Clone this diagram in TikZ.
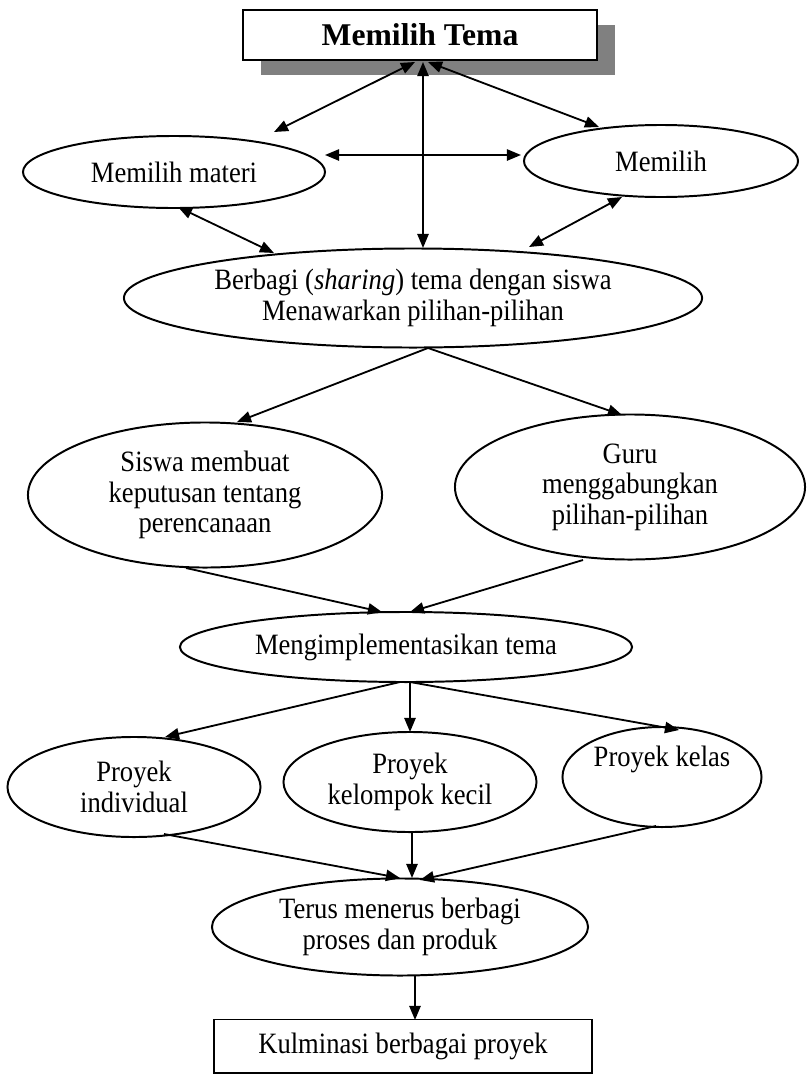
\documentclass[tikz,border=0pt]{standalone}
\usepackage{fontspec}
\setmainfont[FakeStretch=0.9]{Liberation Serif}
\newfontfamily\judul{Liberation Serif}
\usetikzlibrary{shapes.geometric,arrows.meta,calc,shadows}

\tikzset{
  oval/.style={draw, ellipse, line width=1.4pt, inner sep=0pt, outer sep=0pt, align=center},
  kotak/.style={draw, rectangle, line width=1.4pt, inner sep=0pt, outer sep=0pt, align=center, fill=white},
  panah/.style={line width=1.3pt, -{Triangle[length=10pt,width=8pt]}},
  panahdua/.style={line width=1.3pt, {Triangle[length=10pt,width=8pt]}-{Triangle[length=10pt,width=8pt]}},
}

\begin{document}
\begin{tikzpicture}[x=0.025cm, y=-0.025cm, font=\fontsize{21}{21.6}\selectfont]
  \useasboundingbox (0,0) rectangle (808,1074);

  % top
  \node[kotak, minimum width=8.825cm, minimum height=1.25cm, font=\judul\fontsize{22.5}{26}\selectfont\bfseries,
    drop shadow={shadow xshift=0.45cm, shadow yshift=-0.375cm, fill=black!50, opacity=1}] (tema) at (420,35) {Memilih Tema};
  \node[oval, minimum width=7.55cm, minimum height=1.8cm] (materi) at (174,172) {Memilih materi};
  \node[oval, minimum width=6.85cm, minimum height=1.8cm] (memilih) at (661,161) {Memilih};
  \node[oval, minimum width=14.45cm, minimum height=2.475cm] (berbagi) at (413,298) {Berbagi (\textit{sharing}) tema dengan siswa\\Menawarkan pilihan-pilihan};

  \draw[panahdua] ($(tema)+(-5,27)$) -- ($(materi)+(100,-40)$);
  \draw[panahdua] ($(tema)+(8,27)$) -- ($(memilih)+(-62,-34)$);
  \draw[panahdua] ($(tema)+(3,27)$) -- ($(berbagi)+(10,-50)$);
  \draw[panahdua] ($(materi)+(151,-17)$) -- ($(memilih)+(-140,-6)$);
  \draw[panahdua] ($(materi)+(4,35)$) -- ($(berbagi)+(-139,-45)$);
  \draw[panahdua] ($(memilih)+(-39,36)$) -- ($(berbagi)+(116,-51)$);

  % middle
  \node[oval, minimum width=8.85cm, minimum height=3.625cm] (siswa) at (205,495) {Siswa membuat\\keputusan tentang\\perencanaan};
  \node[oval, minimum width=8.75cm, minimum height=3.625cm] (guru) at (630,487) {Guru\\menggabungkan\\pilihan-pilihan};
  \node[oval, minimum width=11.3cm, minimum height=1.75cm] (implementasi) at (406,647) {Mengimplementasikan tema};

  \draw[panah] ($(berbagi)+(15,50)$) -- ($(siswa)+(32,-73)$);
  \draw[panah] ($(berbagi)+(15,50)$) -- ($(guru)+(-8,-72)$);
  \draw[panah] ($(siswa)+(-19,73)$) -- ($(implementasi)+(-24,-35)$);
  \draw[panah] ($(guru)+(-47,73)$) -- ($(implementasi)+(4,-35)$);

  % bottom
  \node[oval, minimum width=6.325cm, minimum height=2.5cm] (individu) at (134,787) {Proyek\\individual};
  \node[oval, minimum width=6.325cm, minimum height=2.5cm] (kelompok) at (410,782) {Proyek\\kelompok kecil};
  \node[oval, minimum width=4.975cm, minimum height=2.5cm] (kelas) at (662,777) {Proyek kelas\\[8pt]\mbox{}};
  \node[oval, minimum width=9.4cm, minimum height=2.425cm] (terus) at (400,927) {Terus menerus berbagi\\proses dan produk};
  \node[kotak, minimum width=9.45cm, minimum height=1.325cm] (kulminasi) at (403,1046) {Kulminasi berbagai proyek};

  \draw[panah] ($(implementasi)+(-6,35)$) -- ($(individu)+(31,-50)$);
  \draw[panah] ($(implementasi)+(4,35)$) -- ($(kelompok)+(0,-50)$);
  \draw[panah] ($(implementasi)+(4,35)$) -- ($(kelas)+(17,-47)$);
  \draw[panah] ($(individu)+(30,47)$) -- ($(terus)+(0,-49)$);
  \draw[panah] ($(kelompok)+(2,49)$) -- ($(terus)+(12,-49)$);
  \draw[panah] ($(kelas)+(-6,49)$) -- ($(terus)+(20,-47)$);
  \draw[panah] ($(terus)+(15,48)$) -- ($(kulminasi)+(12,-26)$);
\end{tikzpicture}
\end{document}
